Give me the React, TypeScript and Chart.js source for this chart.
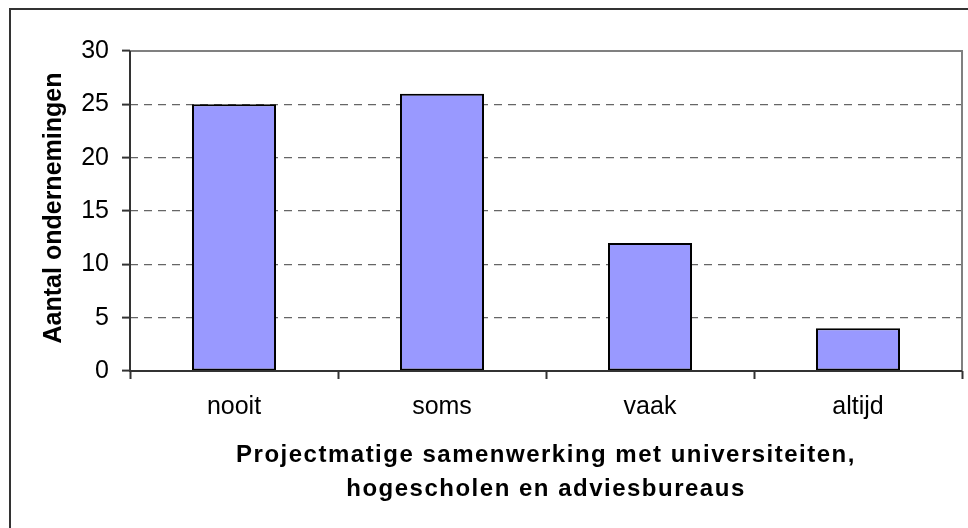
import React, { useEffect, useRef } from "react";
import { Chart, registerables } from "chart.js";

Chart.register(...registerables);

const categories = ["nooit", "soms", "vaak", "altijd"];
const counts = [25, 26, 12, 4];
const yTitle = "Aantal ondernemingen";
const xTitleLines = ["Projectmatige samenwerking met universiteiten,", "hogescholen en adviesbureaus"];
const yMin = 0;
const yMax = 30;
const yStep = 5;

const FONT = "'Liberation Sans', Arial, sans-serif";

const decorPlugin = {
  id: "decor",
  beforeDraw(chart: any) {
    const ctx = chart.ctx;
    ctx.save();
    ctx.fillStyle = "#ffffff";
    ctx.fillRect(0, 0, chart.width, chart.height);
    ctx.strokeStyle = "#333333";
    ctx.lineWidth = 2;
    ctx.strokeRect(10, 9, 2000, 2000);
    ctx.restore();
  },
  afterDatasetsDraw(chart: any) {
    const { ctx, chartArea } = chart;
    const { left, right, top, bottom } = chartArea;
    ctx.save();
    ctx.setLineDash([]);
    ctx.strokeStyle = "#808080";
    ctx.lineWidth = 2;
    ctx.beginPath();
    ctx.moveTo(left, top);
    ctx.lineTo(right, top);
    ctx.lineTo(right, bottom);
    ctx.stroke();
    ctx.strokeStyle = "#333333";
    ctx.beginPath();
    ctx.moveTo(left, top);
    ctx.lineTo(left, bottom);
    ctx.lineTo(right, bottom);
    ctx.stroke();
    ctx.fillStyle = "#000000";
    ctx.font = `bold 24px ${FONT}`;
    ctx.textAlign = "center";
    ctx.textBaseline = "alphabetic";
    try {
      (ctx as any).letterSpacing = "1.5px";
    } catch (e) {}
    const cx = (left + right) / 2;
    ctx.fillText(xTitleLines[0], cx, 462);
    ctx.fillText(xTitleLines[1], cx, 496);
    try {
      (ctx as any).letterSpacing = "0px";
    } catch (e) {}
    ctx.font = `bold 25px ${FONT}`;
    ctx.translate(54, (top + bottom) / 2 - 3);
    ctx.rotate(-Math.PI / 2);
    ctx.textBaseline = "middle";
    ctx.fillText(yTitle, 0, 0);
    ctx.restore();
  },
};

export default function App() {
  const ref = useRef<HTMLCanvasElement | null>(null);
  useEffect(() => {
    if (!ref.current) return;
    const chart = new Chart(ref.current, {
      type: "bar",
      data: {
        labels: categories,
        datasets: [
          {
            data: counts,
            backgroundColor: "#9999FF",
            borderColor: "#000000",
            borderWidth: 2,
            borderSkipped: false,
            categoryPercentage: 1,
            barPercentage: 0.404,
          },
        ],
      },
      options: {
        animation: false,
        responsive: false,
        maintainAspectRatio: false,
        layout: { padding: { top: 51, right: 6, left: 0, bottom: 0 } },
        plugins: {
          legend: { display: false },
          tooltip: { enabled: false },
          title: { display: false },
        },
        scales: {
          x: {
            type: "category",
            offset: true,
            afterFit: (s: any) => {
              s.height = 157;
            },
            grid: {
              offset: true,
              drawOnChartArea: false,
              drawTicks: true,
              tickLength: 8,
              tickColor: "#333333",
              tickWidth: 2,
            },
            border: { display: false },
            ticks: {
              color: "#000000",
              padding: 13,
              font: { family: FONT, size: 25 },
              maxRotation: 0,
            },
          },
          y: {
            type: "linear",
            min: yMin,
            max: yMax,
            afterFit: (s: any) => {
              s.width = 130;
            },
            grid: {
              color: "#666666",
              lineWidth: 1.2,
              drawTicks: true,
              tickLength: 8,
              tickColor: "#333333",
              tickWidth: 2,
              tickBorderDash: [],
            },
            border: { display: false, dash: [8, 6] },
            ticks: {
              stepSize: yStep,
              color: "#000000",
              padding: 13,
              font: { family: FONT, size: 25 },
            },
          },
        },
      },
      plugins: [decorPlugin],
    });
    return () => chart.destroy();
  }, []);
  return (
    <div style={{ position: "fixed", left: 0, top: 0, width: 968, height: 528 }}>
      <canvas ref={ref} width={968} height={528} style={{ width: 968, height: 528 }} />
    </div>
  );
}
